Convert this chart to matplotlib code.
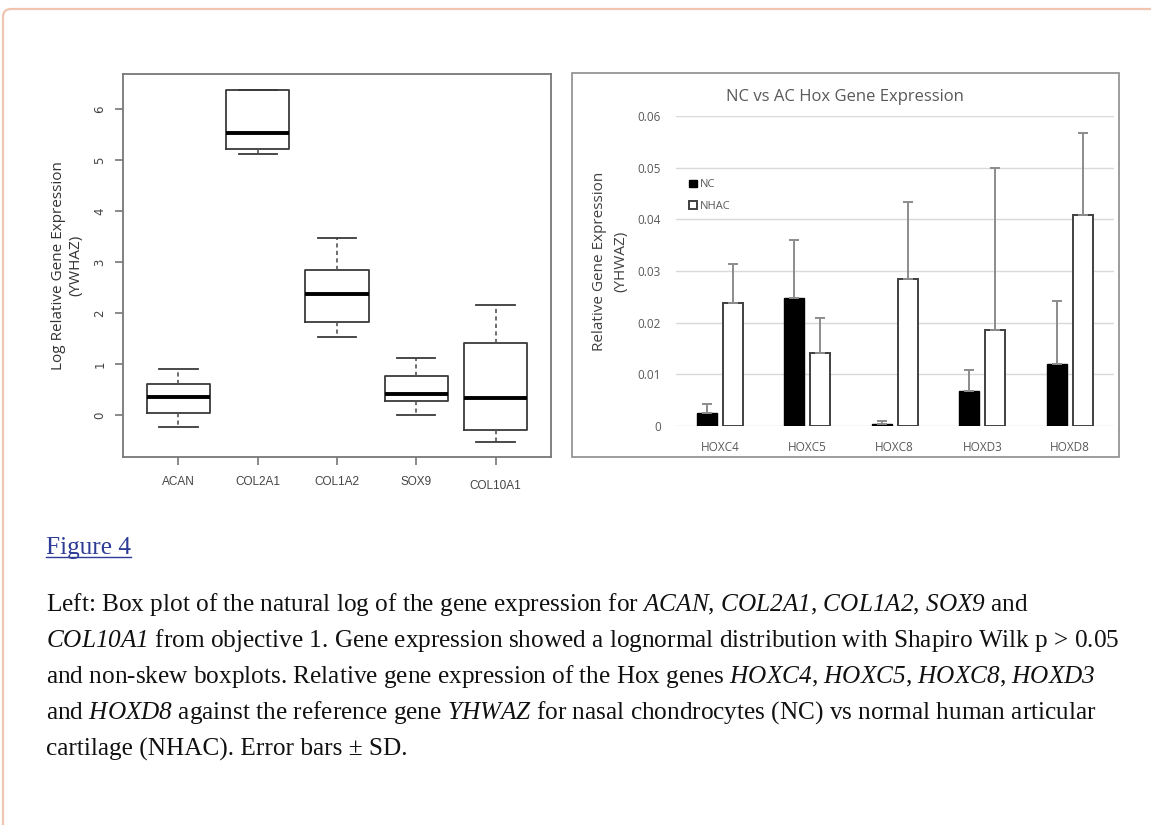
import numpy as np
import matplotlib.pyplot as plt
from matplotlib.patches import FancyBboxPatch, Rectangle

# --- data ---
box_genes = ["ACAN", "COL2A1", "COL1A2", "SOX9", "COL10A1"]
box_low = [-0.23, 5.11, 1.53, 0.00, -0.52]
box_q1 = [0.05, 5.21, 1.83, 0.29, -0.28]
box_med = [0.36, 5.53, 2.38, 0.41, 0.34]
box_q3 = [0.62, 6.37, 2.85, 0.78, 1.42]
box_high = [0.91, 6.38, 3.48, 1.12, 2.17]

hox_genes = ["HOXC4", "HOXC5", "HOXC8", "HOXD3", "HOXD8"]
nc_mean = [0.0026, 0.0248, 0.0004, 0.0068, 0.0120]
nc_sd = [0.0017, 0.0112, 0.0005, 0.0040, 0.0122]
nhac_mean = [0.0238, 0.0141, 0.0284, 0.0185, 0.0408]
nhac_sd = [0.0075, 0.0069, 0.0149, 0.0314, 0.0159]

W, H = 1151, 825
fig = plt.figure(figsize=(W / 100, H / 100), dpi=100)

def px_rect(l, t, r, b):
    return [l / W, 1 - b / H, (r - l) / W, (b - t) / H]

# math parts of the caption are the italic gene names (digits too)
plt.rcParams['mathtext.fontset'] = 'custom'
plt.rcParams['mathtext.rm'] = 'Liberation Serif:italic'
plt.rcParams['mathtext.it'] = 'Liberation Serif:italic'

# card border
card = FancyBboxPatch((0.03, -1.0), 13.0, 8.25 - 0.09 + 1.0,
                      boxstyle="round,pad=0,rounding_size=0.08",
                      transform=fig.dpi_scale_trans, fill=False,
                      edgecolor='#efc5b2', linewidth=1.6)
fig.patches.append(card)

# ---------- left: box plot ----------
ax1 = fig.add_axes(px_rect(123, 74, 551, 457))
stats = []
for i, g in enumerate(box_genes):
    stats.append(dict(label=g, whislo=box_low[i], q1=box_q1[i], med=box_med[i],
                      q3=box_q3[i], whishi=box_high[i], fliers=[]))
ax1.bxp(stats, positions=range(1, 6), widths=0.8, capwidths=0.48, showfliers=False,
        boxprops=dict(color='#3a3a3a', linewidth=1.3),
        whiskerprops=dict(color='#555555', linewidth=1.2, linestyle=(0, (2.5, 2))),
        capprops=dict(color='#3a3a3a', linewidth=1.3),
        medianprops=dict(color='black', linewidth=2.8))
ax1.set_xlim(0.3, 5.7)
span = max(box_high) - min(box_low)
ax1.set_ylim(min(box_low) - 0.04 * span - 0.02, max(box_high) + 0.04 * span + 0.03)
ax1.set_yticks(range(0, 7))
for s in ax1.spines.values():
    s.set_color('#777777')
    s.set_linewidth(1.3)
ax1.tick_params(axis='both', length=6, width=1.2, color='#777777',
                labelcolor='#444444', labelsize=8.5)
ax1.tick_params(axis='x', pad=8)
ax1.tick_params(axis='y', pad=6)
for lab in ax1.get_yticklabels():
    lab.set_rotation(90)
    lab.set_va('center')
for lab in ax1.get_xticklabels():
    lab.set_family('Liberation Sans')
ax1.get_xticklabels()[-1].set_y(-0.008)
ax1.set_ylabel("Log Relative Gene Expression\n(YWHAZ)", fontsize=11,
               family='Open Sans', color='#333333', linespacing=1.25)
ax1.yaxis.set_label_coords(-0.092, 0.5)

# ---------- right: Excel-like bar chart ----------
frame = Rectangle((5.72, (H - 457) / 100), 5.47, 3.84, transform=fig.dpi_scale_trans,
                  fill=False, edgecolor='#8c8c8c', linewidth=1.2)
fig.patches.append(frame)

ax2 = fig.add_axes(px_rect(676, 116, 1113.5, 426))
x = np.arange(len(hox_genes))
bw = 0.23
off = 0.15
ax2.bar(x - off, nc_mean, bw, color='black', edgecolor='black', linewidth=1.0,
        label='NC', zorder=3)
ax2.bar(x + off, nhac_mean, bw, color='white', edgecolor='#404040', linewidth=1.4,
        label='NHAC', zorder=3)
ax2.errorbar(x - off, nc_mean, yerr=[np.zeros(5), nc_sd], fmt='none',
             ecolor='#8c8c8c', elinewidth=1.4, capsize=3.5, capthick=1.4, zorder=4)
ax2.errorbar(x + off, nhac_mean, yerr=[np.zeros(5), nhac_sd], fmt='none',
             ecolor='#8c8c8c', elinewidth=1.4, capsize=3.5, capthick=1.4, zorder=4)
ax2.set_xlim(-0.5, 4.5)
ax2.set_ylim(0, 0.06)
ax2.set_yticks(np.arange(0, 0.061, 0.01))
ax2.set_yticklabels(['0', '0.01', '0.02', '0.03', '0.04', '0.05', '0.06'])
ax2.set_xticks(x)
ax2.set_xticklabels(hox_genes)
ax2.grid(axis='y', color='#d9d9d9', linewidth=1.0, zorder=0)
for s in ax2.spines.values():
    s.set_visible(False)
ax2.tick_params(axis='both', length=0, labelcolor='#595959', labelsize=8.5)
ax2.tick_params(axis='y', pad=11)
ax2.tick_params(axis='x', pad=11)
for lab in ax2.get_xticklabels() + ax2.get_yticklabels():
    lab.set_family('Open Sans')
ax2.set_ylabel("Relative Gene Expression\n(YHWAZ)", fontsize=11, family='Open Sans',
               color='#404040', linespacing=1.5)
ax2.yaxis.set_label_coords(-0.11, 0.53)
leg = ax2.legend(loc='upper left', bbox_to_anchor=(0.02, 0.81), frameon=False,
                 fontsize=8, handlelength=0.7, handleheight=0.7, handletextpad=0.3,
                 labelspacing=0.95, borderaxespad=0)
for t in leg.get_texts():
    t.set_color('#595959')
    t.set_family('Open Sans')
fig.text(845 / W, 1 - 97 / H, "NC vs AC Hox Gene Expression", ha='center', va='center',
         fontsize=12, family='Open Sans', color='#595959')

# ---------- caption ----------
cap_font = dict(family='Liberation Serif', fontsize=18.2, color='#111111')
fig4 = fig.text(46 / W, 1 - 548 / H, "Figure 4", ha='left', va='center',
                family='Liberation Serif', fontsize=18.2, color='#2d3c96')
fig.canvas.draw()
bb = fig4.get_window_extent().transformed(fig.transFigure.inverted())
fig.add_artist(plt.Line2D([bb.x0, bb.x1], [bb.y0 + 0.002, bb.y0 + 0.002],
                          transform=fig.transFigure, color='#2d3c96', linewidth=1.0))

caption_lines = [
    r"Left: Box plot of the natural log of the gene expression for $ACAN$, "
    r"$COL2A1$, $COL1A2$, $SOX9$ and",
    r"$COL10A1$ from objective 1. Gene expression showed a lognormal "
    r"distribution with Shapiro Wilk p > 0.05",
    r"and non-skew boxplots. Relative gene expression of the Hox genes "
    r"$HOXC4$, $HOXC5$, $HOXC8$, $HOXD3$",
    r"and $HOXD8$ against the reference gene $YHWAZ$ for nasal "
    r"chondrocytes (NC) vs normal human articular",
    r"cartilage (NHAC). Error bars ± SD.",
]
line_y = [604, 640, 676, 713, 749]
for txt, yy in zip(caption_lines, line_y):
    fig.text(46 / W, 1 - yy / H, txt, ha='left', va='center', **cap_font)

fig.savefig('out.png', dpi=100)
